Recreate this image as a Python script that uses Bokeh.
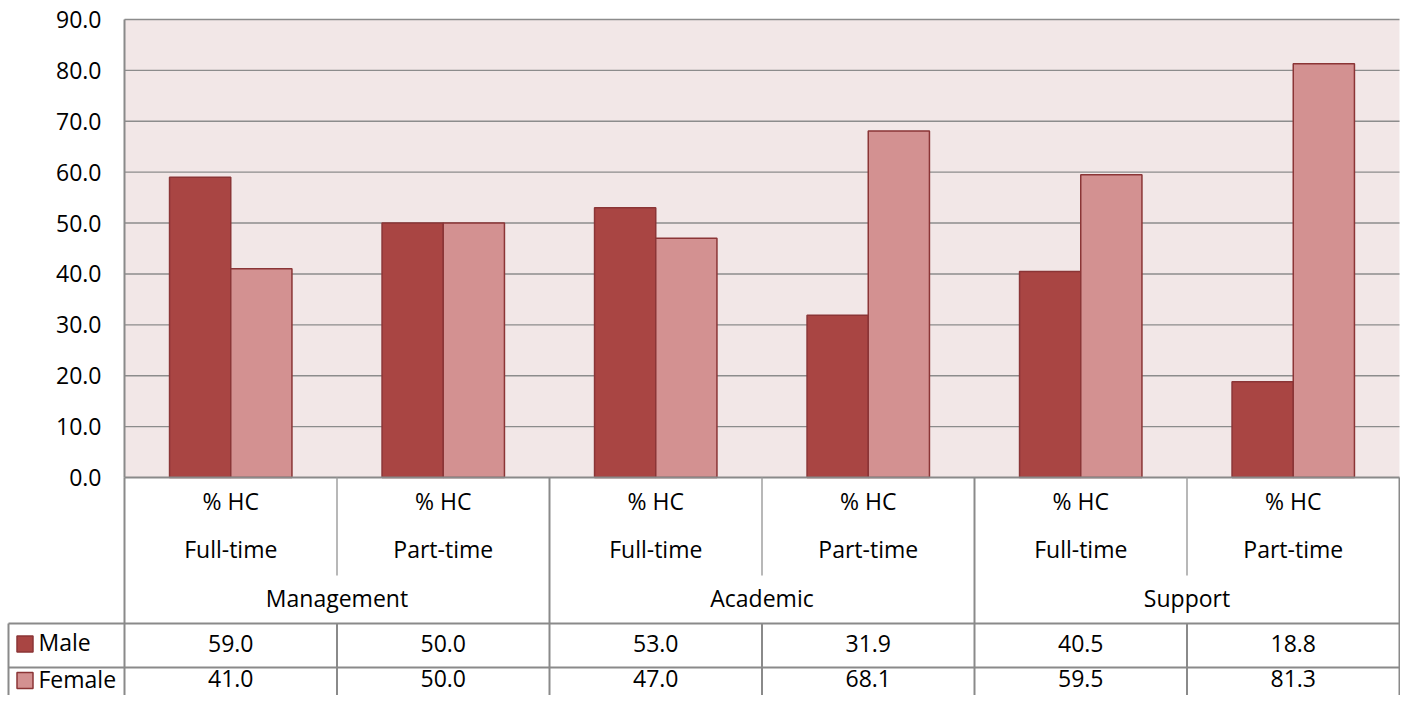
import numpy as np
from bokeh.plotting import figure
from bokeh.models import Range1d, FixedTicker, NumeralTickFormatter
from bokeh.core.properties import value
from bokeh.embed import file_html
from bokeh.resources import INLINE

# ---- data ----
groups = ["Management", "Academic", "Support"]
subcats = ["Full-time", "Part-time"]
measure = "% HC"
series = ["Male", "Female"]
male = [59.0, 50.0, 53.0, 31.9, 40.5, 18.8]
female = [41.0, 50.0, 47.0, 68.1, 59.5, 81.3]
y_ticks = [0, 10, 20, 30, 40, 50, 60, 70, 80, 90]

# ---- style ----
FONT = "Open Sans"
FS = "23px"
MALE_C = "#A94543"
FEMALE_C = "#D39191"
EDGE_C = "#8B3536"
BG = "#F2E7E7"
GRID_C = "#8C8C8C"
TBL_C = "#8A8A8A"
SUB_C = "#A0A0A0"

W, H = 1400, 695
ncat = len(male)
YMAX = 90

# pixel layout of the plot area
X0, X1 = 124, 1399      # plot area left / right (px)
Y0, YT = 477, 19        # value 0 / value 90 (px from top)
PXU = (X1 - X0) / ncat  # px per category
PPU = (Y0 - YT) / YMAX  # px per value unit


def dx(px):
    return (px - X0) / PXU


def dy(px):
    return (Y0 - px) / PPU


p = figure(width=W, height=H, output_backend="svg", toolbar_location=None,
           x_range=Range1d(dx(0), dx(W)), y_range=Range1d(dy(H), dy(0)),
           min_border_left=0, min_border_right=0, min_border_top=0,
           min_border_bottom=0)
p.background_fill_color = "white"
p.border_fill_color = "white"
p.outline_line_color = None
p.xaxis.visible = False
p.grid.visible = False

ya = p.yaxis[0]
ya.fixed_location = 0
ya.bounds = (0, YMAX)
ya.ticker = FixedTicker(ticks=y_ticks)
ya.formatter = NumeralTickFormatter(format="0.0")
ya.axis_line_color = TBL_C
ya.axis_line_width = 2
ya.major_tick_out = 0
ya.major_tick_in = 0
ya.minor_tick_out = 0
ya.minor_tick_in = 0
ya.major_label_standoff = 23
ya.major_label_text_font = FONT
ya.major_label_text_font_size = FS
ya.major_label_text_color = "black"

# plot area background + gridlines
p.quad(left=[0], right=[ncat], bottom=[0], top=[YMAX], fill_color=BG,
       line_color=None, level="underlay")
gl = y_ticks[1:]
p.segment(x0=[0] * len(gl), x1=[ncat] * len(gl), y0=gl, y1=gl,
          line_color=GRID_C, line_width=1.4, level="underlay")

# bars
idx = np.arange(ncat) + 0.5
off = 0.144
bw = 0.288
p.vbar(x=idx - off, top=male, width=bw, bottom=0, fill_color=MALE_C,
       line_color=EDGE_C, line_width=1.5)
p.vbar(x=idx + off, top=female, width=bw, bottom=0, fill_color=FEMALE_C,
       line_color=EDGE_C, line_width=1.5)

# ---- data table ----
L1, L2 = dy(623), dy(667)
SUB_BOT = dy(575)
BOT = dy(H)
XL = dx(8)
x0s = [0, 2, 4, ncat, XL, XL, XL, 0]
x1s = [0, 2, 4, ncat, XL, ncat, ncat, ncat]
y0s = [0, 0, 0, 0, L1, L1, L2, 0]
y1s = [BOT, BOT, BOT, BOT, BOT, L1, L2, 0]
p.segment(x0=x0s, y0=y0s, x1=x1s, y1=y1s, line_color=TBL_C, line_width=2)
p.segment(x0=[1, 3, 5], y0=[0] * 3, x1=[1, 3, 5], y1=[SUB_BOT] * 3,
          line_color=SUB_C, line_width=1.5)
p.segment(x0=[1, 3, 5], y0=[L1] * 3, x1=[1, 3, 5], y1=[BOT] * 3,
          line_color=TBL_C, line_width=2)

txt = dict(text_font=value(FONT), text_font_size=value(FS), text_color="black",
           text_align="center", text_baseline="middle")
p.text(x=list(idx), y=[dy(500)] * ncat, text=[measure] * ncat, **txt)
p.text(x=list(idx), y=[dy(548)] * ncat, text=subcats * len(groups), **txt)
p.text(x=[1, 3, 5], y=[dy(597)] * 3, text=groups, **txt)
p.text(x=list(idx), y=[dy(643)] * ncat, text=[f"{v:.1f}" for v in male], **txt)
p.text(x=list(idx), y=[dy(678)] * ncat, text=[f"{v:.1f}" for v in female], **txt)

# legend keys + series names
p.scatter(x=[dx(24.5)] * 2, y=[dy(643.5), dy(680)], marker="square", size=16,
          fill_color=[MALE_C, FEMALE_C], line_color=EDGE_C, line_width=1.5)
lt = dict(txt)
lt["text_align"] = "left"
p.text(x=[dx(38)] * 2, y=[dy(641), dy(678)], text=series, **lt)

open("out.html", "w").write(file_html(p, INLINE))
